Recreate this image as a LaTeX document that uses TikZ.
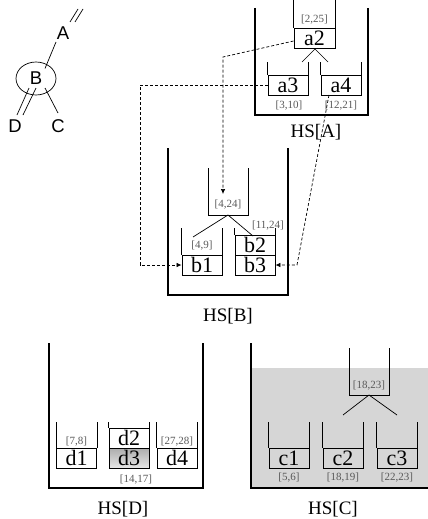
\documentclass[tikz,border=0pt]{standalone}
\usepackage{fontspec}
\setmainfont{Liberation Serif}
\newfontfamily\arialf{Liberation Sans}
\usetikzlibrary{arrows.meta,shapes.geometric}
\begin{document}
\begin{tikzpicture}[x=1pt,y=-1pt,
  box/.style={draw, line width=0.9pt, minimum width=40pt, minimum height=20pt, inner sep=0pt, font=\fontsize{22}{22}\selectfont},
  rng/.style={text=black!65, font=\fontsize{11}{11}\selectfont, inner sep=0pt},
  wall/.style={line width=2.4pt},
  cupw/.style={line width=0.9pt},
  link/.style={densely dashed, line width=0.7pt},
  tip/.style={-{Latex[length=5pt,width=4.5pt]}},
  hs/.style={font=\fontsize{19}{19}\selectfont, inner sep=0pt},
  tr/.style={font=\arialf\fontsize{18.5}{18.5}\selectfont, inner sep=0pt},
  thin/.style={line width=0.7pt}
]
\useasboundingbox (0,0) rectangle (428,519);

% ---------- left tree ----------
\node[tr] (A) at (63,33) {A};
\node[tr, draw, ellipse, minimum width=40pt, minimum height=33pt, line width=0.7pt] (B) at (36,78.5) {B};
\node[tr] (D) at (15,126) {D};
\node[tr] (C) at (58,126) {C};
\draw[thin] ([shift={(-7,9)}]A.center) -- ([shift={(9,-10)}]B.center);
\draw[thin] ([shift={(7,-11)}]A.center) -- ([shift={(15,-24)}]A.center);
\draw[thin] ([shift={(12,-11)}]A.center) -- ([shift={(20,-24)}]A.center);
\draw[thin] ([shift={(-7,9.5)}]B.center) -- ([shift={(2,-11)}]D.center);
\draw[thin] ([shift={(0,9.5)}]B.center) -- ([shift={(8,-11)}]D.center);
\draw[thin] ([shift={(9,9.5)}]B.center) -- ([shift={(0,-13)}]C.center);

% ---------- HS[A] ----------
\draw[wall] (255,8) -- (255,115) -- (368,115) -- (368,8);
\node[box, minimum width=41pt] (a2) at (314.5,38) {a2};
\draw[cupw] (a2.north west) -- (a2.north west |- 0,0);
\draw[cupw] (a2.north east) -- (a2.north east |- 0,0);
\node[rng] (ra2) at (314.5,20) {[2,25]};
\node[box] (a3) at (288,85) {a3};
\node[box] (a4) at (341,85) {a4};
\draw[cupw] (a3.north west) -- (a3.north west |- 0,62);
\draw[cupw] (a3.north east) -- (a3.north east |- 0,62);
\draw[cupw] (a4.north west) -- (a4.north west |- 0,62);
\draw[cupw] (a4.north east) -- (a4.north east |- 0,62);
\coordinate (ta) at (315,49);
\draw[thin] (302,62) -- (ta) -- (328,62);
\node[rng] (ra3) at (289,106) {[3,10]};
\node[rng] (ra4) at (341,106) {[12,21]};
\node[hs] (HSA) at (316,132) {HS[A]};

% ---------- HS[B] ----------
\draw[wall] (168,148) -- (168,295) -- (288,295) -- (288,148);
\draw[cupw] (208,168) -- (208,215) -- (248,215) -- (248,168);
\node[rng] (rb0) at (228,205) {[4,24]};
\coordinate (tb) at (228,215);
\draw[thin] (193,237) -- (tb) -- (253,236);
\node[box] (b1) at (202,265) {b1};
\draw[cupw] (b1.north west) -- (b1.north west |- 0,228);
\draw[cupw] (b1.north east) -- (b1.north east |- 0,228);
\node[rng] (rb1) at (202,246) {[4,9]};
\node[box] (b2) at (255,245) {b2};
\node[box] (b3) at (255,265) {b3};
\draw[cupw] (b2.north west) -- (b2.north west |- 0,228);
\draw[cupw] (b2.north east) -- (b2.north east |- 0,228);
\node[rng] (rb2) at (268,226) {[11,24]};
\node[hs] (HSB) at (228,316) {HS[B]};

% ---------- dashed links ----------
\coordinate (p1) at (223,57);
\coordinate (q1) at (223,194);
\draw[link, tip] ([yshift=-3pt]a2.west) -- (p1) -- (q1);
\coordinate (p2) at (140,85);
\coordinate (q2) at (140,265);
\draw[link, tip] (a3.west) -- (p2) -- (q2) -- (b1.west);
\coordinate (p3) at (329,95);
\coordinate (q3) at (297,265);
\draw[link, tip] (p3) -- (q3) -- (b3.east);

% ---------- HS[D] ----------
\draw[wall] (49,343) -- (49,488) -- (203,488) -- (203,343);
\node[box] (d1) at (76.5,458) {d1};
\draw[cupw] (d1.north west) -- (d1.north west |- 0,422);
\draw[cupw] (d1.north east) -- (d1.north east |- 0,422);
\node[rng] (rd1) at (76.5,442) {[7,8]};
\node[box] (d2) at (129,438) {d2};
\node[box, top color=gray!65, bottom color=gray!20] (d3) at (129,458) {d3};
\draw[cupw] (d2.north west) -- (d2.north west |- 0,422);
\draw[cupw] (d2.north east) -- (d2.north east |- 0,422);
\node[box] (d4) at (177,458) {d4};
\draw[cupw] (d4.north west) -- (d4.north west |- 0,422);
\draw[cupw] (d4.north east) -- (d4.north east |- 0,422);
\node[rng] (rd4) at (177,442) {[27,28]};
\node[rng] (rd3) at (136,480) {[14,17]};
\node[hs] (HSD) at (123,509) {HS[D]};

% ---------- HS[C] ----------
\fill[gray!32] (251,368) rectangle (428,488);
\draw[wall] (251,343) -- (251,488) -- (430,488);
\draw[cupw] (349,348) -- (349,395) -- (389,395) -- (389,348);
\node[rng] (rc0) at (369,386) {[18,23]};
\coordinate (tc) at (369,395);
\draw[thin] (343,415) -- (tc) -- (397,415);
\node[box] (c1) at (289,458) {c1};
\node[box] (c2) at (343,458) {c2};
\node[box] (c3) at (397,458) {c3};
\foreach \n in {c1,c2,c3}{
  \draw[cupw] (\n.north west) -- (\n.north west |- 0,422);
  \draw[cupw] (\n.north east) -- (\n.north east |- 0,422);
}
\node[rng] (rc1) at (289,478) {[5,6]};
\node[rng] (rc2) at (343,478) {[18,19]};
\node[rng] (rc3) at (397,478) {[22,23]};
\node[hs] (HSC) at (333,509) {HS[C]};
\end{tikzpicture}
\end{document}
